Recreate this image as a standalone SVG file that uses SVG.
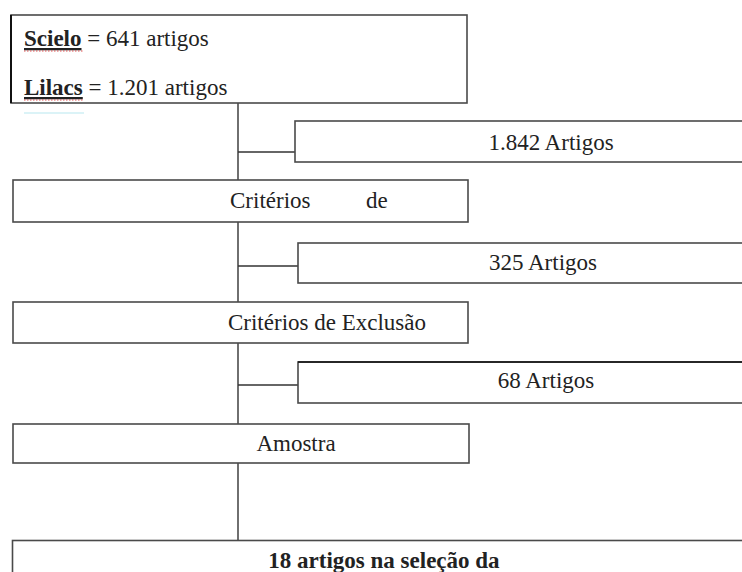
<svg xmlns="http://www.w3.org/2000/svg" width="742" height="572" viewBox="0 0 742 572">
<style>
.box{fill:#fff;stroke:#4a4a4a;stroke-width:1.6}
.t{font-family:"Liberation Serif","Times New Roman",serif;font-size:23px;fill:#222}
.c{text-anchor:middle}
.b{font-weight:bold}
.ln{stroke:#333;stroke-width:1.4;fill:none}
.sq{stroke:#e05050;stroke-width:1;fill:none;stroke-dasharray:1.5 1.5}
</style>
<rect width="742" height="572" fill="#fff"/>
<g id="connectors">
<line class="ln" x1="238" y1="103" x2="238" y2="180"/>
<line class="ln" x1="238" y1="222" x2="238" y2="302"/>
<line class="ln" x1="238" y1="343" x2="238" y2="424"/>
<line class="ln" x1="238" y1="463" x2="238" y2="540"/>
<line class="ln" x1="238" y1="152" x2="295" y2="152"/>
<line class="ln" x1="238" y1="266" x2="298" y2="266"/>
<line class="ln" x1="238" y1="385" x2="298" y2="385"/>
</g>
<g id="sources">
<rect class="box" x="11" y="15" width="456" height="88"/>
<line x1="11" y1="15" x2="11" y2="103" stroke="#111" stroke-width="2"/>
<text class="t" x="24" y="46"><tspan class="b" text-decoration="underline">Scielo</tspan> = 641 artigos</text>
<text class="t" x="24" y="95"><tspan class="b" text-decoration="underline">Lilacs</tspan> = 1.201 artigos</text>
<path class="sq" d="M24 51 H84"/>
<path class="sq" d="M24 100 H84"/>
<line x1="24" y1="113" x2="84" y2="113" stroke="#cfeff5" stroke-width="1.5"/>
</g>
<g id="n1842">
<rect class="box" x="295" y="121" width="460" height="41"/>
<text class="t c" x="551" y="150">1.842 Artigos</text>
</g>
<g id="criterios-inclusao">
<rect class="box" x="13" y="180" width="455" height="42"/>
<text class="t" y="208"><tspan x="230">Critérios</tspan><tspan x="366">de</tspan></text>
</g>
<g id="n325">
<rect class="box" x="298" y="243" width="460" height="40"/>
<text class="t c" x="543" y="270">325 Artigos</text>
</g>
<g id="criterios-exclusao">
<rect class="box" x="13" y="302" width="455" height="41"/>
<text class="t c" x="327" y="330">Critérios de Exclusão</text>
</g>
<g id="n68">
<rect class="box" x="298" y="362" width="460" height="41"/>
<line x1="298" y1="362" x2="742" y2="362" stroke="#111" stroke-width="1.6"/>
<text class="t c" x="546" y="388">68 Artigos</text>
</g>
<g id="amostra">
<rect class="box" x="13" y="424" width="456" height="39"/>
<text class="t c" x="296" y="451">Amostra</text>
</g>
<g id="selecao">
<rect class="box" x="12.5" y="540.5" width="745" height="50"/>
<text class="t c b" x="384" y="568">18 artigos na seleção da</text>
</g>
</svg>
